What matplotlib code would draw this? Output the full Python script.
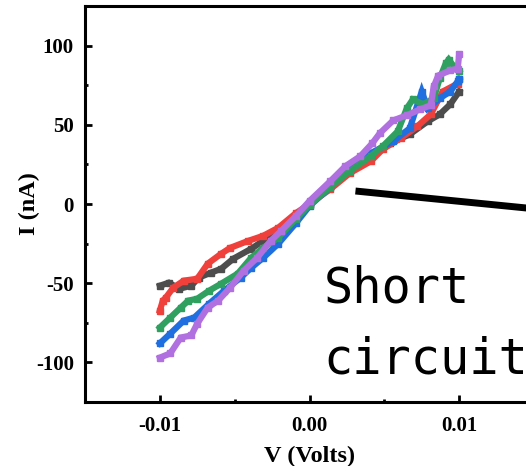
import matplotlib
matplotlib.use("Agg")
import matplotlib.pyplot as plt

plt.rcParams["axes.unicode_minus"] = False

# -----------------------------------------------------
# I-V sweeps, short circuit
# -----------------------------------------------------

v_black = [-0.0100, -0.0094, -0.0087, -0.0079, -0.0074, -0.0066, -0.0059, -0.0051,
           -0.0039, -0.0026, -0.0013, 0.0000, 0.0014, 0.0027, 0.0041, 0.0054,
           0.0067, 0.0079, 0.0087, 0.0094, 0.0100]
i_black = [-51.6, -49.7, -53.5, -51.6, -46.5, -43.4, -40.9, -34.6,
           -28.3, -20.1, -10.7, 0.0, 11.3, 22.0, 30.2, 38.4,
           44.0, 52.2, 56.6, 62.9, 71.0]

v_red = [-0.0100, -0.0098, -0.0096, -0.0091, -0.0084, -0.0075, -0.0068, -0.0059,
         -0.0053, -0.0041, -0.0031, -0.0021, -0.0009, 0.0000, 0.0014, 0.0027,
         0.0041, 0.0049, 0.0061, 0.0072, 0.0081, 0.0089, 0.0099, 0.0100]
i_red = [-67.3, -61.0, -59.1, -52.8, -48.4, -47.2, -37.7, -31.4,
         -27.7, -23.3, -20.1, -15.1, -5.7, 0.0, 9.4, 19.5,
         27.0, 34.6, 41.5, 49.0, 56.6, 71.0, 76.0, 78.6]

v_blue = [-0.0100, -0.0093, -0.0084, -0.0077, -0.0067, -0.0057, -0.0046, -0.0039,
          -0.0031, -0.0021, -0.0009, 0.0000, 0.0014, 0.0027, 0.0041, 0.0056,
          0.0067, 0.0075, 0.0079, 0.0087, 0.0094, 0.0099, 0.0100]
i_blue = [-88.0, -81.8, -73.6, -71.7, -62.9, -54.7, -46.5, -40.3,
          -34.0, -25.2, -12.0, -1.3, 10.7, 22.0, 32.1, 39.6,
          47.8, 71.0, 60.4, 66.7, 71.0, 77.4, 78.6]

v_green = [-0.0100, -0.0093, -0.0086, -0.0081, -0.0075, -0.0067, -0.0059, -0.0048,
           -0.0039, -0.0031, -0.0021, -0.0009, 0.0000, 0.0014, 0.0027, 0.0041,
           0.0049, 0.0059, 0.0065, 0.0069, 0.0076, 0.0083, 0.0087, 0.0091,
           0.0093, 0.0097, 0.0100]
i_green = [-78.0, -71.7, -65.4, -61.0, -59.8, -54.7, -50.3, -44.0,
           -34.0, -27.7, -21.4, -9.4, -0.6, 10.7, 20.8, 30.2,
           36.5, 45.9, 60.4, 66.0, 62.9, 66.7, 79.3, 88.7,
           91.2, 86.2, 83.7]

v_purple = [-0.0100, -0.0093, -0.0086, -0.0079, -0.0075, -0.0068, -0.0061, -0.0053,
            -0.0044, -0.0035, -0.0026, -0.0019, -0.0009, 0.0000, 0.0014, 0.0024,
            0.0034, 0.0042, 0.0047, 0.0056, 0.0065, 0.0074, 0.0081, 0.0083,
            0.0086, 0.0094, 0.0099, 0.0100]
i_purple = [-97.0, -94.3, -84.3, -83.0, -75.5, -65.4, -61.0, -52.8,
            -42.1, -34.0, -23.3, -17.0, -7.5, 1.9, 14.5, 23.9,
            30.2, 38.4, 44.7, 52.8, 56.0, 59.8, 62.3, 74.2,
            81.1, 84.3, 85.5, 94.4]

x_ticks = [-0.01, 0.00, 0.01]
x_labels = ["-0.01", "0.00", "0.01"]
y_ticks = [-100, -50, 0, 50, 100]

# -----------------------------------------------------

fig = plt.figure(figsize=(5.26, 4.66), dpi=100)
ax = fig.add_axes([85 / 526, 1 - 402 / 466, 449 / 526, 396 / 466])

series = [
    (v_black, i_black, "#4d4d4d"),
    (v_red, i_red, "#f0403c"),
    (v_blue, i_blue, "#1f6fe0"),
    (v_green, i_green, "#30a060"),
    (v_purple, i_purple, "#b070e0"),
]
for v, i, c in series:
    ax.plot(v, i, color=c, lw=4.5, marker="s", ms=5, mec=c, mfc=c,
            solid_joinstyle="miter")

# annotation pointer and label
ax.plot([0.00307, 0.015], [8.2, -3.0], color="black", lw=5,
        solid_capstyle="butt", clip_on=False)
ax.text(0.00093, -62.3, "Short", family="DejaVu Sans Mono", fontsize=35,
        va="baseline", ha="left")
ax.text(0.00093, -107.0, "circuit", family="DejaVu Sans Mono", fontsize=35,
        va="baseline", ha="left")

ax.set_xlim(-0.015, 0.015)
ax.set_ylim(-125, 125)
ax.set_xticks(x_ticks)
ax.set_xticklabels(x_labels)
ax.set_yticks(y_ticks)
ax.set_xticks([-0.005, 0.005], minor=True)
ax.set_yticks([-75, -25, 25, 75], minor=True)

font = {"family": "Liberation Serif", "weight": "bold"}
for lab in ax.get_xticklabels() + ax.get_yticklabels():
    lab.set_fontfamily("Liberation Serif")
    lab.set_fontweight("bold")
    lab.set_fontsize(15)

ax.tick_params(which="major", direction="in", length=5, width=2, pad=8)
ax.tick_params(axis="x", which="major", pad=10)
ax.tick_params(which="minor", direction="in", length=2.5, width=2)
for s in ax.spines.values():
    s.set_linewidth(2.2)

ax.set_xlabel("V (Volts)", fontdict=font, fontsize=17.5, labelpad=7)
ax.set_ylabel("I (nA)", fontdict=font, fontsize=17.5)
ax.yaxis.set_label_coords(-0.100, 0.5)

fig.savefig("out.png", dpi=100)
